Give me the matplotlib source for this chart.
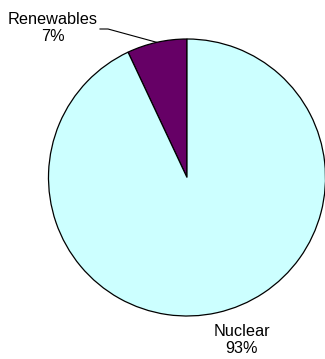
import numpy as np
import matplotlib
matplotlib.use("Agg")
import matplotlib.pyplot as plt
from matplotlib.lines import Line2D

# data
labels = ["Renewables", "Nuclear"]
shares = [7, 93]
colors = ["#660066", "#CCFFFF"]

plt.rcParams['font.family'] = ['Liberation Sans', 'DejaVu Sans']

fig = plt.figure(figsize=(3.25, 3.59), dpi=100)
W, H = 325, 359

# pie centre and radius in pixels
cx, cy, r = 187, 177.5, 138.5
ax = fig.add_axes([(cx - r) / W, 1 - (cy + r) / H, 2 * r / W, 2 * r / H])

wedges, _ = ax.pie(shares, colors=colors, startangle=90, counterclock=True,
                   radius=1, wedgeprops=dict(edgecolor='black', linewidth=0.9))
ax.set_xlim(-1, 1)
ax.set_ylim(-1, 1)
ax.axis('off')

# labels
fig.text(53 / W, 1 - 28 / H, "Renewables\n7%", ha='center', va='center',
         fontsize=11.7, linespacing=1.2)
fig.text(242 / W, 1 - 340 / H, "Nuclear\n93%", ha='center', va='center',
         fontsize=11.7, linespacing=1.2)

# leader line for Renewables
w = wedges[0]
mid = np.deg2rad((w.theta1 + w.theta2) / 2)
px, py = ax.transData.transform((np.cos(mid), np.sin(mid)))
fx, fy = px / W, py / H
line = Line2D([100 / W, 108 / W, fx], [1 - 29 / H, 1 - 29 / H, fy],
              transform=fig.transFigure, color='black', linewidth=0.8)
fig.add_artist(line)

fig.savefig("out.png", dpi=100)
